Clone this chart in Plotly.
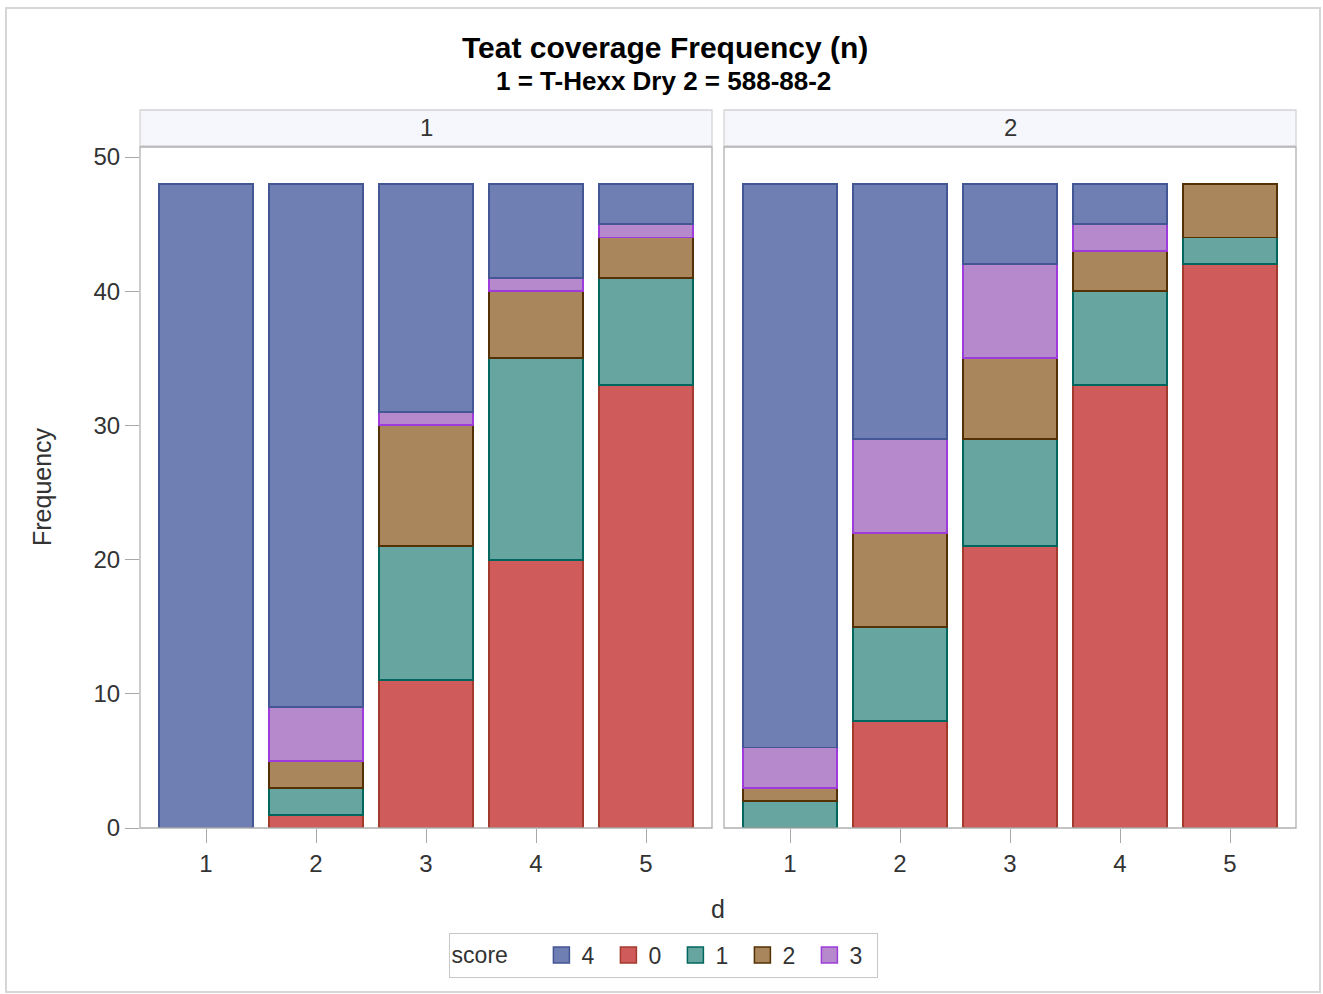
import plotly.graph_objects as go

# ---- data ----
d_values = [1, 2, 3, 4, 5]
panels = ["1", "2"]
score_order = ["0", "1", "2", "3", "4"]          # stacking order (bottom -> top)
legend_order = ["4", "0", "1", "2", "3"]

# panel 1 (1 = T-Hexx Dry)
p1_score0 = [0, 1, 11, 20, 33]
p1_score1 = [0, 2, 10, 15, 8]
p1_score2 = [0, 2, 9, 5, 3]
p1_score3 = [0, 4, 1, 1, 1]
p1_score4 = [48, 39, 17, 7, 3]

# panel 2 (2 = 588-88-2)
p2_score0 = [0, 8, 21, 33, 42]
p2_score1 = [2, 7, 8, 7, 2]
p2_score2 = [1, 7, 6, 3, 4]
p2_score3 = [3, 7, 7, 2, 0]
p2_score4 = [42, 19, 6, 3, 0]

y_ticks = [0, 10, 20, 30, 40, 50]

fill_colors = {"4": "#6F7EB3", "0": "#D05B5B", "1": "#66A5A0", "2": "#A9865B", "3": "#B689CD"}
line_colors = {"4": "#445694", "0": "#A23A2E", "1": "#01665E", "2": "#543005", "3": "#9D3CDB"}

panel_data = {
    "1": {"0": p1_score0, "1": p1_score1, "2": p1_score2, "3": p1_score3, "4": p1_score4},
    "2": {"0": p2_score0, "1": p2_score1, "2": p2_score2, "3": p2_score3, "4": p2_score4},
}

W, H = 1323, 994
FONT = "Liberation Sans, Arial, sans-serif"
TXT = "#333333"

px_left = [140, 724]
px_right = [712, 1296]
py_top, py_bottom = 147, 828
strip_top = 110


def fx(px):
    return px / W


def fy(py):
    return (H - py) / H


fig = go.Figure()

for pi, pname in enumerate(panels):
    xa = "x" if pi == 0 else "x2"
    ya = "y" if pi == 0 else "y2"
    for s in score_order:
        vals = [v if v != 0 else None for v in panel_data[pname][s]]
        fig.add_trace(go.Bar(
            x=d_values, y=vals, name=s, xaxis=xa, yaxis=ya,
            width=0.85,
            marker=dict(color=fill_colors[s], line=dict(color=line_colors[s], width=1.9)),
            showlegend=False,
        ))

for s in legend_order:
    fig.add_trace(go.Scatter(
        x=[None], y=[None], mode="markers", name=s,
        marker=dict(symbol="square", size=16, color=fill_colors[s],
                    line=dict(color=line_colors[s], width=1.5)),
        showlegend=True,
    ))

axis_common = dict(
    showgrid=False, zeroline=False, showline=False,
    ticks="outside", ticklen=14, tickcolor="#A8A8A8", tickwidth=1.3,
    tickfont=dict(family=FONT, size=24, color=TXT),
)

yrange = [0, 50 + 10 * 50 / (py_bottom - 157)]

fig.update_layout(
    width=W, height=H,
    margin=dict(l=0, r=0, t=0, b=0, pad=0, autoexpand=False),
    paper_bgcolor="white", plot_bgcolor="white",
    barmode="stack",
    font=dict(family=FONT, color=TXT),
    xaxis=dict(domain=[fx(px_left[0]), fx(px_right[0])], range=[0.4, 5.6],
               tickvals=d_values, ticktext=[str(v) for v in d_values], anchor="y", **axis_common),
    xaxis2=dict(domain=[fx(px_left[1]), fx(px_right[1])], range=[0.4, 5.6],
                tickvals=d_values, ticktext=[str(v) for v in d_values], anchor="y2", **axis_common),
    yaxis=dict(domain=[fy(py_bottom), fy(py_top)], range=yrange,
               tickvals=y_ticks, anchor="x", **axis_common),
    yaxis2=dict(domain=[fy(py_bottom), fy(py_top)], range=yrange,
                matches="y", showticklabels=False, ticks="", anchor="x2",
                showgrid=False, zeroline=False, showline=False),
    legend=dict(
        orientation="h", x=0.5012, xanchor="center", y=fy(955), yanchor="middle",
        title=dict(text="score    ", font=dict(family=FONT, size=23, color=TXT)),
        font=dict(family=FONT, size=23, color=TXT),
        bordercolor="#C8C8C8", borderwidth=1, bgcolor="white",
        traceorder="normal", itemwidth=30, entrywidth=22, entrywidthmode="pixels",
    ),
    showlegend=True,
)

shapes = []
shapes.append(dict(type="rect", xref="paper", yref="paper",
                   x0=fx(6), x1=fx(1320), y0=fy(992), y1=fy(8),
                   line=dict(color="#D6D6D6", width=2), fillcolor="rgba(0,0,0,0)", layer="below"))
for pi in range(2):
    shapes.append(dict(type="rect", xref="paper", yref="paper",
                       x0=fx(px_left[pi]), x1=fx(px_right[pi]), y0=fy(py_top - 1), y1=fy(strip_top),
                       line=dict(color="#D4D4D4", width=1.3), fillcolor="#F6F7FC", layer="below"))
    shapes.append(dict(type="rect", xref="paper", yref="paper",
                       x0=fx(px_left[pi]), x1=fx(px_right[pi]), y0=fy(py_bottom), y1=fy(py_top),
                       line=dict(color="#B0B0B0", width=1.3), fillcolor="rgba(0,0,0,0)", layer="above"))
fig.update_layout(shapes=shapes)

annotations = [
    dict(text="<b>Teat coverage Frequency (n)</b>", x=fx(665), y=fy(48), xref="paper", yref="paper",
         showarrow=False, font=dict(family=FONT, size=30, color="black"), xanchor="center", yanchor="middle"),
    dict(text="<b>1 = T-Hexx Dry 2 = 588-88-2</b>", x=fx(663), y=fy(81), xref="paper", yref="paper",
         showarrow=False, font=dict(family=FONT, size=26, color="black"), xanchor="center", yanchor="middle"),
    dict(text="Frequency", x=fx(42), y=fy(487), xref="paper", yref="paper", textangle=-90,
         showarrow=False, font=dict(family=FONT, size=25, color=TXT), xanchor="center", yanchor="middle"),
    dict(text="d", x=fx(718), y=fy(909), xref="paper", yref="paper",
         showarrow=False, font=dict(family=FONT, size=25, color=TXT), xanchor="center", yanchor="middle"),
]
for pi, pname in enumerate(panels):
    annotations.append(dict(text=pname, x=fx((px_left[pi] + px_right[pi]) / 2), y=fy(127),
                            xref="paper", yref="paper", showarrow=False,
                            font=dict(family=FONT, size=24, color=TXT),
                            xanchor="center", yanchor="middle"))
fig.update_layout(annotations=annotations)

fig.write_html("out.html", config={"displayModeBar": False},
               post_script="document.body.style.margin='0';")
